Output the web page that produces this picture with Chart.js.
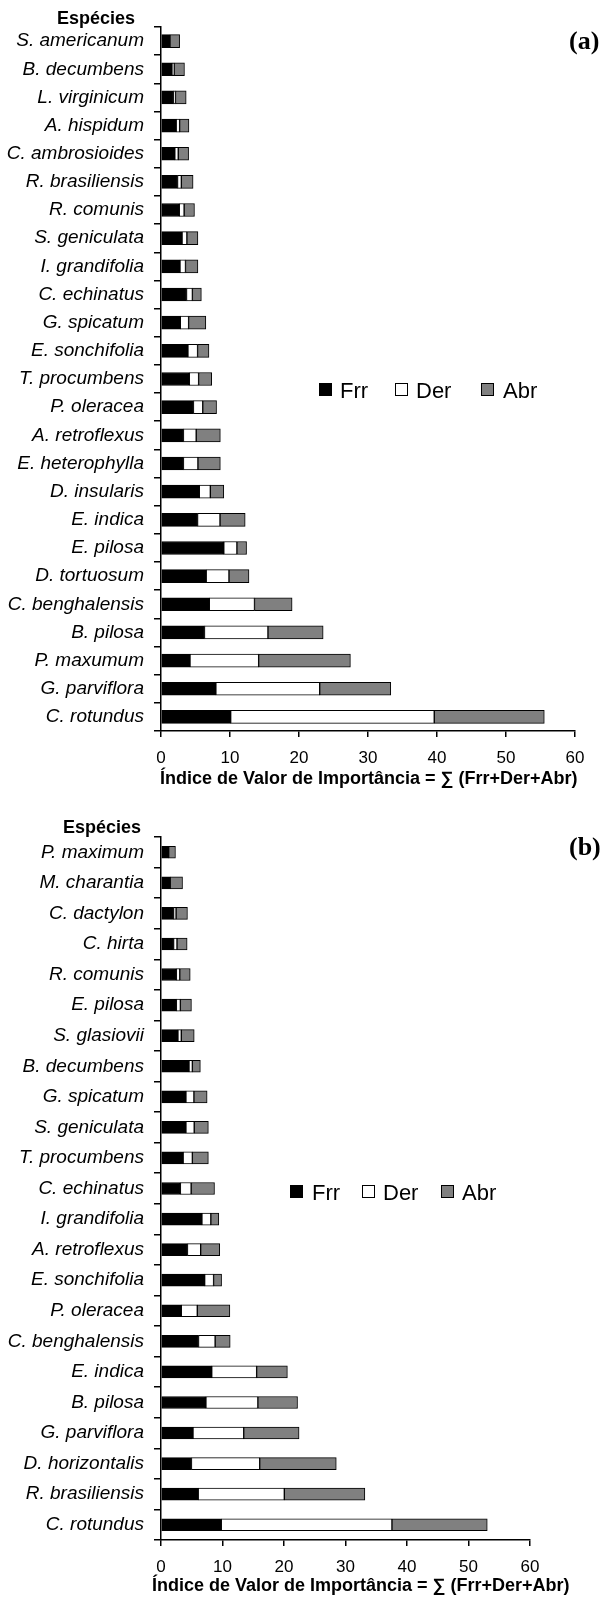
<!DOCTYPE html>
<html>
<head>
<meta charset="utf-8">
<script src="https://cdn.jsdelivr.net/npm/chart.js@4.4.1/dist/chart.umd.min.js"></script>
<style>
body{margin:0;background:#fff;}
#wrap{position:relative;width:607px;height:1600px;font-family:"Liberation Sans",Arial,sans-serif;color:#000;}
canvas{position:absolute;left:0;}
.txt{position:absolute;white-space:nowrap;line-height:1;}
.esp{font-weight:bold;font-size:18px;}
.painel{font-family:"Liberation Serif","DejaVu Serif",serif;font-weight:bold;font-size:26px;}
.titulo{font-weight:bold;font-size:18px;}
.leg{font-size:22px;}
.sq{position:absolute;width:11px;height:11px;border:1.5px solid #000;}
</style>
</head>
<body>
<div id="wrap">
<canvas id="grafA" width="607" height="800" style="top:0"></canvas>
<canvas id="grafB" width="607" height="800" style="top:800px"></canvas>

<div class="txt esp" style="right:472px;top:9px">Espécies</div>
<div class="txt painel" style="left:569px;top:28px">(a)</div>
<div class="txt titulo" style="left:160px;top:769px">Índice de Valor de Importância = ∑ (Frr+Der+Abr)</div>

<div class="sq" style="left:319px;top:383px;background:#000"></div>
<div class="txt leg" style="left:340px;top:380px">Frr</div>
<div class="sq" style="left:395px;top:383px;background:#fff"></div>
<div class="txt leg" style="left:416px;top:380px">Der</div>
<div class="sq" style="left:481px;top:383px;background:#808080"></div>
<div class="txt leg" style="left:503px;top:380px">Abr</div>

<div class="txt esp" style="right:466px;top:818px">Espécies</div>
<div class="txt painel" style="left:569px;top:834px">(b)</div>
<div class="txt titulo" style="left:152px;top:1576px">Índice de Valor de Importância = ∑ (Frr+Der+Abr)</div>

<div class="sq" style="left:290px;top:1185px;background:#000"></div>
<div class="txt leg" style="left:312px;top:1182px">Frr</div>
<div class="sq" style="left:362px;top:1185px;background:#fff"></div>
<div class="txt leg" style="left:383px;top:1182px">Der</div>
<div class="sq" style="left:441px;top:1185px;background:#808080"></div>
<div class="txt leg" style="left:462px;top:1182px">Abr</div>
</div>

<script>
// (a)
const especiesA=["S. americanum","B. decumbens","L. virginicum","A. hispidum","C. ambrosioides","R. brasiliensis","R. comunis","S. geniculata","I. grandifolia","C. echinatus","G. spicatum","E. sonchifolia","T. procumbens","P. oleracea","A. retroflexus","E. heterophylla","D. insularis","E. indica","E. pilosa","D. tortuosum","C. benghalensis","B. pilosa","P. maxumum","G. parviflora","C. rotundus"];
const frrA=[1.3,1.6,1.8,2.2,2.0,2.4,2.65,3.05,2.75,3.7,2.8,3.9,4.1,4.7,3.25,3.25,5.55,5.3,9.1,6.55,7.0,6.3,4.2,7.95,10.1];
const derA=[0,0.3,0.3,0.5,0.5,0.55,0.7,0.7,0.8,0.85,1.2,1.4,1.35,1.35,1.85,2.1,1.6,3.25,1.9,3.3,6.55,9.2,9.95,15.05,29.5];
const abrA=[1.4,1.5,1.55,1.35,1.5,1.7,1.5,1.6,1.8,1.3,2.5,1.65,1.9,2.0,3.5,3.25,1.95,3.65,1.4,2.9,5.45,8.0,13.3,10.3,15.95];

// (b)
const especiesB=["P. maximum","M. charantia","C. dactylon","C. hirta","R. comunis","E. pilosa","S. glasiovii","B. decumbens","G. spicatum","S. geniculata","T. procumbens","C. echinatus","I. grandifolia","A. retroflexus","E. sonchifolia","P. oleracea","C. benghalensis","E. indica","B. pilosa","G. parviflora","D. horizontalis","R. brasiliensis","C. rotundus"];
const frrB=[1.25,1.5,2.05,2.05,2.5,2.5,2.75,4.55,4.05,4.05,3.6,3.15,6.65,4.3,7.1,3.3,6.1,8.25,7.3,5.2,4.95,6.05,9.8];
const derB=[0,0,0.4,0.55,0.55,0.65,0.55,0.55,1.3,1.35,1.5,1.75,1.45,2.15,1.45,2.6,2.7,7.3,8.45,8.25,11.1,14.0,27.75];
const abrB=[1.1,2.0,1.85,1.65,1.7,1.8,2.1,1.3,2.15,2.3,2.6,3.8,1.3,3.1,1.3,5.3,2.45,5.0,6.45,9.0,12.45,13.1,15.5];

const ticksX=[0,10,20,30,40,50,60];

function criarGrafico(id,especies,frr,der,abr,cfg){
const ds=(label,data,cor)=>({label:label,data:data,backgroundColor:cor,borderColor:"#000",
borderWidth:1,borderSkipped:false,barThickness:cfg.esp});
new Chart(document.getElementById(id),{
type:"bar",
data:{labels:especies,datasets:[ds("Frr",frr,"#000"),ds("Der",der,"#fff"),ds("Abr",abr,"#808080")]},
options:{
indexAxis:"y",
responsive:false,
animation:false,
layout:{padding:{top:cfg.top,right:cfg.right,left:0,bottom:0}},
plugins:{legend:{display:false},tooltip:{enabled:false}},
scales:{
x:{stacked:true,min:0,max:60,
afterBuildTicks:s=>{s.ticks=ticksX.map(v=>({value:v}));},
afterFit:s=>{s.height=cfg.baixo;},
ticks:{color:"#000",font:{family:'"Liberation Sans",Arial,sans-serif',size:17},padding:11,maxRotation:0},
grid:{drawOnChartArea:false,drawTicks:true,tickLength:6,color:"#000",lineWidth:1.5},
border:{color:"#000",width:1.5}},
y:{stacked:true,
afterFit:s=>{s.width=cfg.esq;},
ticks:{color:"#000",font:{family:'"Liberation Sans",Arial,sans-serif',size:19,style:"italic"},padding:10,autoSkip:false},
grid:{offset:true,drawOnChartArea:false,drawTicks:true,tickLength:7,color:"#000",lineWidth:1.5},
border:{color:"#000",width:1.5}}
}
}
});
}

criarGrafico("grafA",especiesA,frrA,derA,abrA,{top:27,right:32,esq:161,baixo:69,esp:13});
criarGrafico("grafB",especiesB,frrB,derB,abrB,{top:37,right:77,esq:161,baixo:60,esp:12});
</script>
</body>
</html>
